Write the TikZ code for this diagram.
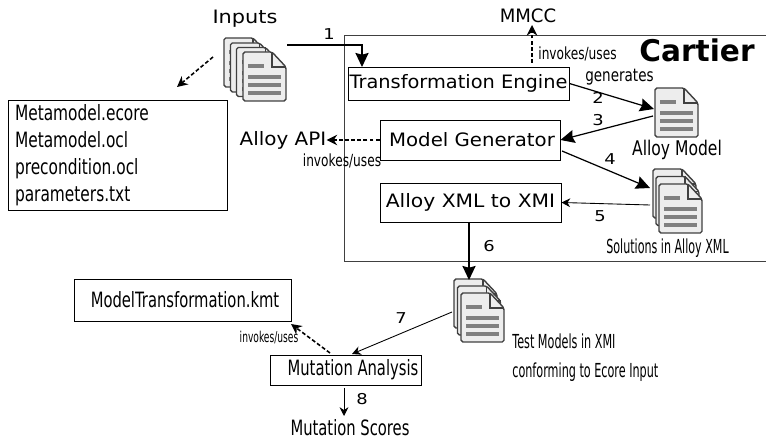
\documentclass[tikz,border=0pt]{standalone}
\usepackage{fontspec}
\usepackage{graphicx}
\setmainfont{DejaVu Sans}
\usetikzlibrary{arrows.meta}
\newcommand{\hs}[2]{\scalebox{#1}[1]{#2}}
\definecolor{docfill}{gray}{0.93}
\definecolor{docline}{gray}{0.25}
\definecolor{docbar}{gray}{0.5}
\tikzset{
  box/.style={draw,line width=0.5pt,inner sep=0pt},
  lbl/.style={font=\fontsize{10.5}{12}\selectfont,inner sep=0pt},
  tall/.style={font=\fontsize{12}{14}\selectfont,inner sep=0pt},
  small/.style={font=\fontsize{9.5}{11}\selectfont,inner sep=0pt},
  num/.style={font=\fontsize{8.5}{10}\selectfont,inner sep=0pt},
  flow/.style={-{Stealth[length=8pt,width=7.5pt,inset=1pt]},line width=0.7pt},
  thin flow/.style={-{Stealth[length=5pt,width=5pt]},line width=0.5pt},
  call/.style={-{Stealth[length=6pt,width=6pt]},line width=0.9pt,dash pattern=on 2.2pt off 1.3pt},
  doc/.pic={
    \draw[fill=docfill,draw=docline,line width=0.8pt,rounded corners=1pt]
      (0,0) -- (0.58,0) -- (0.86,-0.3) -- (0.86,-0.98) -- (0,-0.98) -- cycle;
    \draw[draw=docline,line width=0.6pt] (0.58,0) -- (0.58,-0.3) -- (0.86,-0.3);
    \fill[docbar] (0.1,-0.25) rectangle (0.42,-0.33);
    \foreach \y in {-0.47,-0.63,-0.79}
      \fill[docbar] (0.1,\y) rectangle (0.76,\y-0.08);
  }
}
\begin{document}
\begin{tikzpicture}
\useasboundingbox (0,0) rectangle (15.32,8.8);
% cartier frame
\draw[line width=0.45pt,draw=docline] (15.32,8.1) -- (6.88,8.1) -- (6.88,3.58) -- (15.32,3.58);
\node[font=\fontsize{17}{19}\selectfont\bfseries,inner sep=0pt] (cartier) at (13.94,7.8) {\hs{0.99}{Cartier}};
%
\node[box,lbl,minimum width=4.42cm,minimum height=0.66cm] (engine) at (9.17,7.13) {\hs{1.05}{Transformation Engine}};
\node[box,lbl,minimum width=3.6cm,minimum height=0.8cm] (gen) at (9.4,6) {\hspace*{0.08cm}\hs{1.07}{Model Generator}};
\node[box,lbl,minimum width=3.62cm,minimum height=0.78cm] (xmlb) at (9.41,4.75) {\hs{1.1}{Alloy XML to XMI}};
%
\node[box,minimum width=4.38cm,minimum height=2.2cm,text width=4.1cm,align=left,font=\fontsize{12}{15.4}\selectfont] (files) at (2.35,5.7) {\hs{0.73}{Metamodel.ecore}\\\hs{0.73}{Metamodel.ocl}\\\hs{0.73}{precondition.ocl}\\\hs{0.73}{parameters.txt}};
%
\node[box,tall,minimum width=4.34cm,minimum height=0.84cm] (kmt) at (3.65,2.8) {\hspace*{0.1cm}\hs{0.7}{ModelTransformation.kmt}};
\node[box,tall,minimum width=3.02cm,minimum height=0.6cm] (mut) at (6.91,1.4) {\hspace*{0.3cm}\hs{0.7}{Mutation Analysis}};
\node[tall] (scores) at (7,0.24) {\hs{0.7}{Mutation Scores}};
%
\pic at (4.48,8.04) {doc};
\pic at (4.61,7.94) {doc};
\pic at (4.73,7.85) {doc};
\pic at (4.86,7.76) {doc};
\node[minimum width=1.24cm,minimum height=1.26cm,inner sep=0pt] (inputs) at (5.1,7.42) {};
\node[lbl] (inputst) at (4.9,8.42) {\hs{1.13}{Inputs}};
%
\pic at (13.1,7.04) {doc};
\node[minimum width=0.86cm,minimum height=0.98cm,inner sep=0pt] (model) at (13.53,6.55) {};
\node[font=\fontsize{11.5}{13}\selectfont,inner sep=0pt] (modelt) at (13.54,5.8) {\hs{0.77}{Alloy Model}};
%
\pic at (13.06,5.42) {doc};
\pic at (13.12,5.27) {doc};
\pic at (13.18,5.12) {doc};
\node[minimum width=0.98cm,minimum height=1.28cm,inner sep=0pt] (sols) at (13.55,4.78) {};
\node[font=\fontsize{11}{13}\selectfont,inner sep=0pt] (solst) at (13.35,3.84) {\hs{0.575}{Solutions in Alloy XML}};
%
\pic at (9.08,3.22) {doc};
\pic at (9.15,3.08) {doc};
\pic at (9.22,2.94) {doc};
\node[minimum width=1cm,minimum height=1.28cm,inner sep=0pt] (tests) at (9.58,2.58) {};
\node[anchor=west,font=\fontsize{11}{16.5}\selectfont,align=left,inner sep=0pt] (testst) at (10.24,1.65) {\hs{0.58}{Test Models in XMI}\\\hs{0.58}{conforming to Ecore Input}};
%
\node[lbl] (mmcc) at (10.56,8.48) {\hs{0.98}{MMCC}};
\node[lbl] (api) at (5.66,6) {\hs{1.08}{Alloy API}};
\node[small] (inv1) at (11.55,7.72) {\hs{0.73}{invokes/uses}};
\node[font=\fontsize{10}{12}\selectfont,inner sep=0pt] (gens) at (12.39,7.26) {\hs{0.77}{generates}};
\node[small] (inv2) at (6.84,5.58) {\hs{0.73}{invokes/uses}};
\node[font=\fontsize{8.5}{10}\selectfont,inner sep=0pt] (inv3) at (5.38,2.04) {\hs{0.61}{invokes/uses}};
%
\node[num] (n1) at (6.58,8.12) {\hs{1.2}{1}};
\node[num] (n2) at (11.96,6.84) {\hs{1.2}{2}};
\node[num] (n3) at (11.96,6.4) {\hs{1.2}{3}};
\node[num] (n4) at (12.2,5.62) {\hs{1.2}{4}};
\node[num] (n5) at (12,4.48) {\hs{1.2}{5}};
\node[num] (n6) at (9.78,3.88) {\hs{1.2}{6}};
\node[num] (n7) at (8.02,2.44) {\hs{1.2}{7}};
\node[num] (n8) at (7.24,0.82) {\hs{1.2}{8}};
%
\coordinate (d0) at (5.74,7.9);
\coordinate (d1) at (7.24,7.46);
\coordinate (f1) at (3.54,7.06);
\coordinate (d2) at (10.64,7.54);
\coordinate (d2b) at (10.64,8.3);
\coordinate (d3) at (9.38,4.36);
\coordinate (d3b) at (9.38,3.2);
\coordinate (d4) at (9.04,2.56);
\coordinate (d5) at (7.04,1.72);
\coordinate (d6) at (6.6,1.74);
\coordinate (d7) at (5.82,2.32);
\coordinate (d8) at (6.88,1.04);
\coordinate (d9) at (6.88,0.48);
\coordinate (d10) at (4.26,7.66);
\coordinate (m1) at (13.08,6.62);
\coordinate (m2) at (13.06,6.48);
\coordinate (g1) at (11.24,5.78);
\coordinate (s1) at (13,5.04);
\coordinate (s2) at (13,4.7);
%
\draw[flow] (d0) -| (d1);
\draw[call] (d10) -- (f1);
\draw[call] (d2) -- (d2b);
\draw[flow] (engine.east) -- (m1);
\draw[flow] (m2) -- (gen.east);
\draw[flow] (g1) -- (s1);
\draw[thin flow] (s2) -- (xmlb.east);
\draw[flow] (d3) -- (d3b);
\draw[thin flow] (d4) -- (d5);
\draw[thin flow] (d8) -- (d9);
\draw[call] (d6) -- (d7);
\draw[call] (gen.west) -- (api.east);
\end{tikzpicture}
\end{document}
